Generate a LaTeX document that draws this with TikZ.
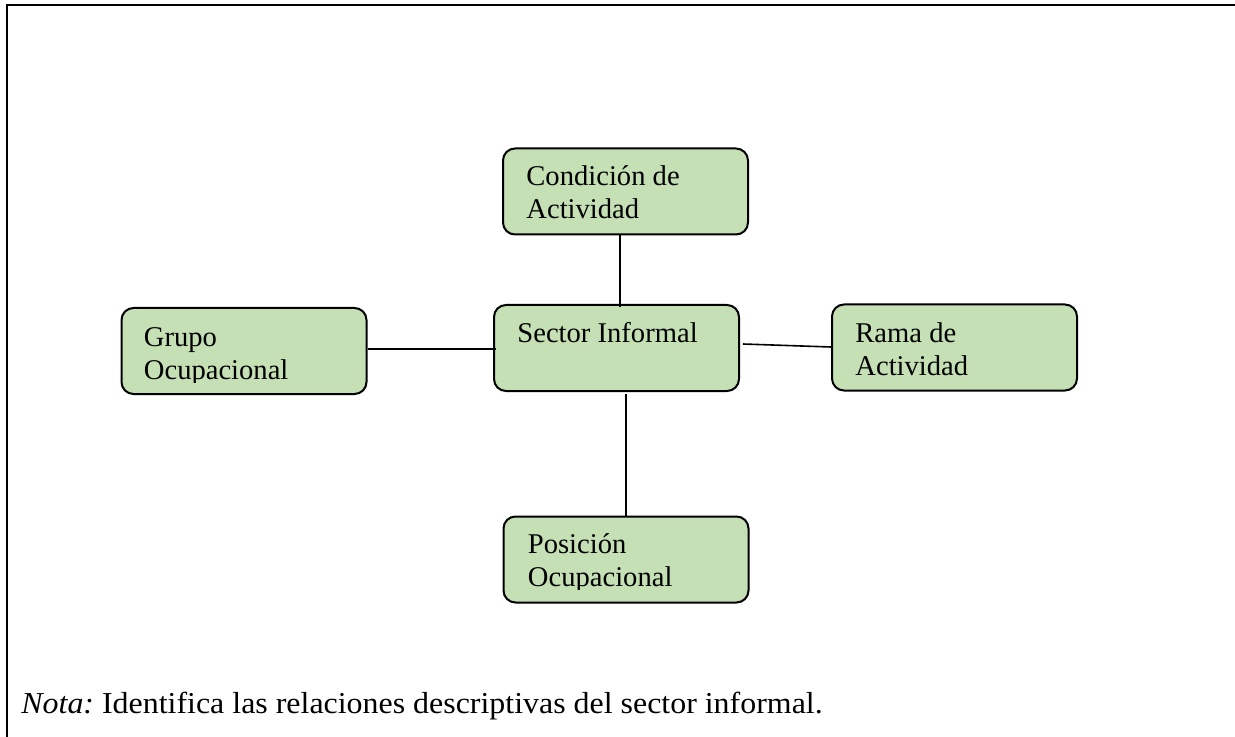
\documentclass[tikz,border=0pt]{standalone}
\usepackage{fontspec}
\setmainfont{Liberation Serif}
\newfontfamily\notafont{Liberation Serif}[FakeStretch=1.05]
\definecolor{verdecaja}{RGB}{197,224,180}
\tikzset{
  caja/.style = {
    draw, fill=verdecaja, line width=1pt, rounded corners=6pt,
    minimum width=122.5pt, minimum height=43pt, inner sep=0pt
  },
  rotulo/.style = {
    anchor=base west, inner sep=0pt, align=left,
    font=\fontsize{14.3}{16.5}\selectfont
  },
  enlace/.style = {line width=0.8pt}
}

\begin{document}
\begin{tikzpicture}[x=0.5pt,y=-0.5pt]
  \useasboundingbox (0,0) rectangle (1235,737);
  \draw[line width=1pt] (1235,5) -- (7,5) -- (7,737);
  % cajas
  \node[caja] (cond) at (625.5,191.5) {};
  \node[caja] (sector) at (616.5,348) {};
  \node[caja] (grupo) at (244,351) {};
  \node[caja] (rama) at (954.5,347.5) {};
  \node[caja] (pos) at (626,559.5) {};
  % textos (base = ultima linea)
  \node[rotulo] (tcond) at ([shift={(24,71.5)}]cond.north west) {Condición de\\Actividad};
  \node[rotulo] (tsector) at ([shift={(24,38.5)}]sector.north west) {Sector Informal};
  \node[rotulo] (trama) at ([shift={(24,71.5)}]rama.north west) {Rama de\\Actividad};
  \begin{scope}
    \clip (grupo.north west) rectangle ([shift={(0,-13)}]grupo.south east);
    \node[rotulo] (tgrupo) at ([shift={(23,72.5)}]grupo.north west) {Grupo\\Ocupacional};
  \end{scope}
  \begin{scope}
    \clip (pos.north west) rectangle ([shift={(0,-14)}]pos.south east);
    \node[rotulo] (tpos) at ([shift={(25,70.5)}]pos.north west) {Posición\\Ocupacional};
  \end{scope}
  % enlaces
  \draw[enlace] ([shift={(-5.5,0)}]cond.south) -- ([shift={(3.5,3)}]sector.north);
  \draw[enlace] ([shift={(0,-2)}]grupo.east) -- ([shift={(3,1)}]sector.west);
  \draw[enlace] ([shift={(3,-4)}]sector.east) -- ([shift={(0,-0.5)}]rama.west);
  \draw[enlace] ([shift={(9.5,2)}]sector.south) -- ([shift={(0,1)}]pos.north);
  \node[rotulo, font=\notafont\fontsize{15.2}{18}\selectfont] (nota) at (21,713)
    {{\itshape Nota:}\ Identifica las relaciones descriptivas del sector informal.};
\end{tikzpicture}
\end{document}
